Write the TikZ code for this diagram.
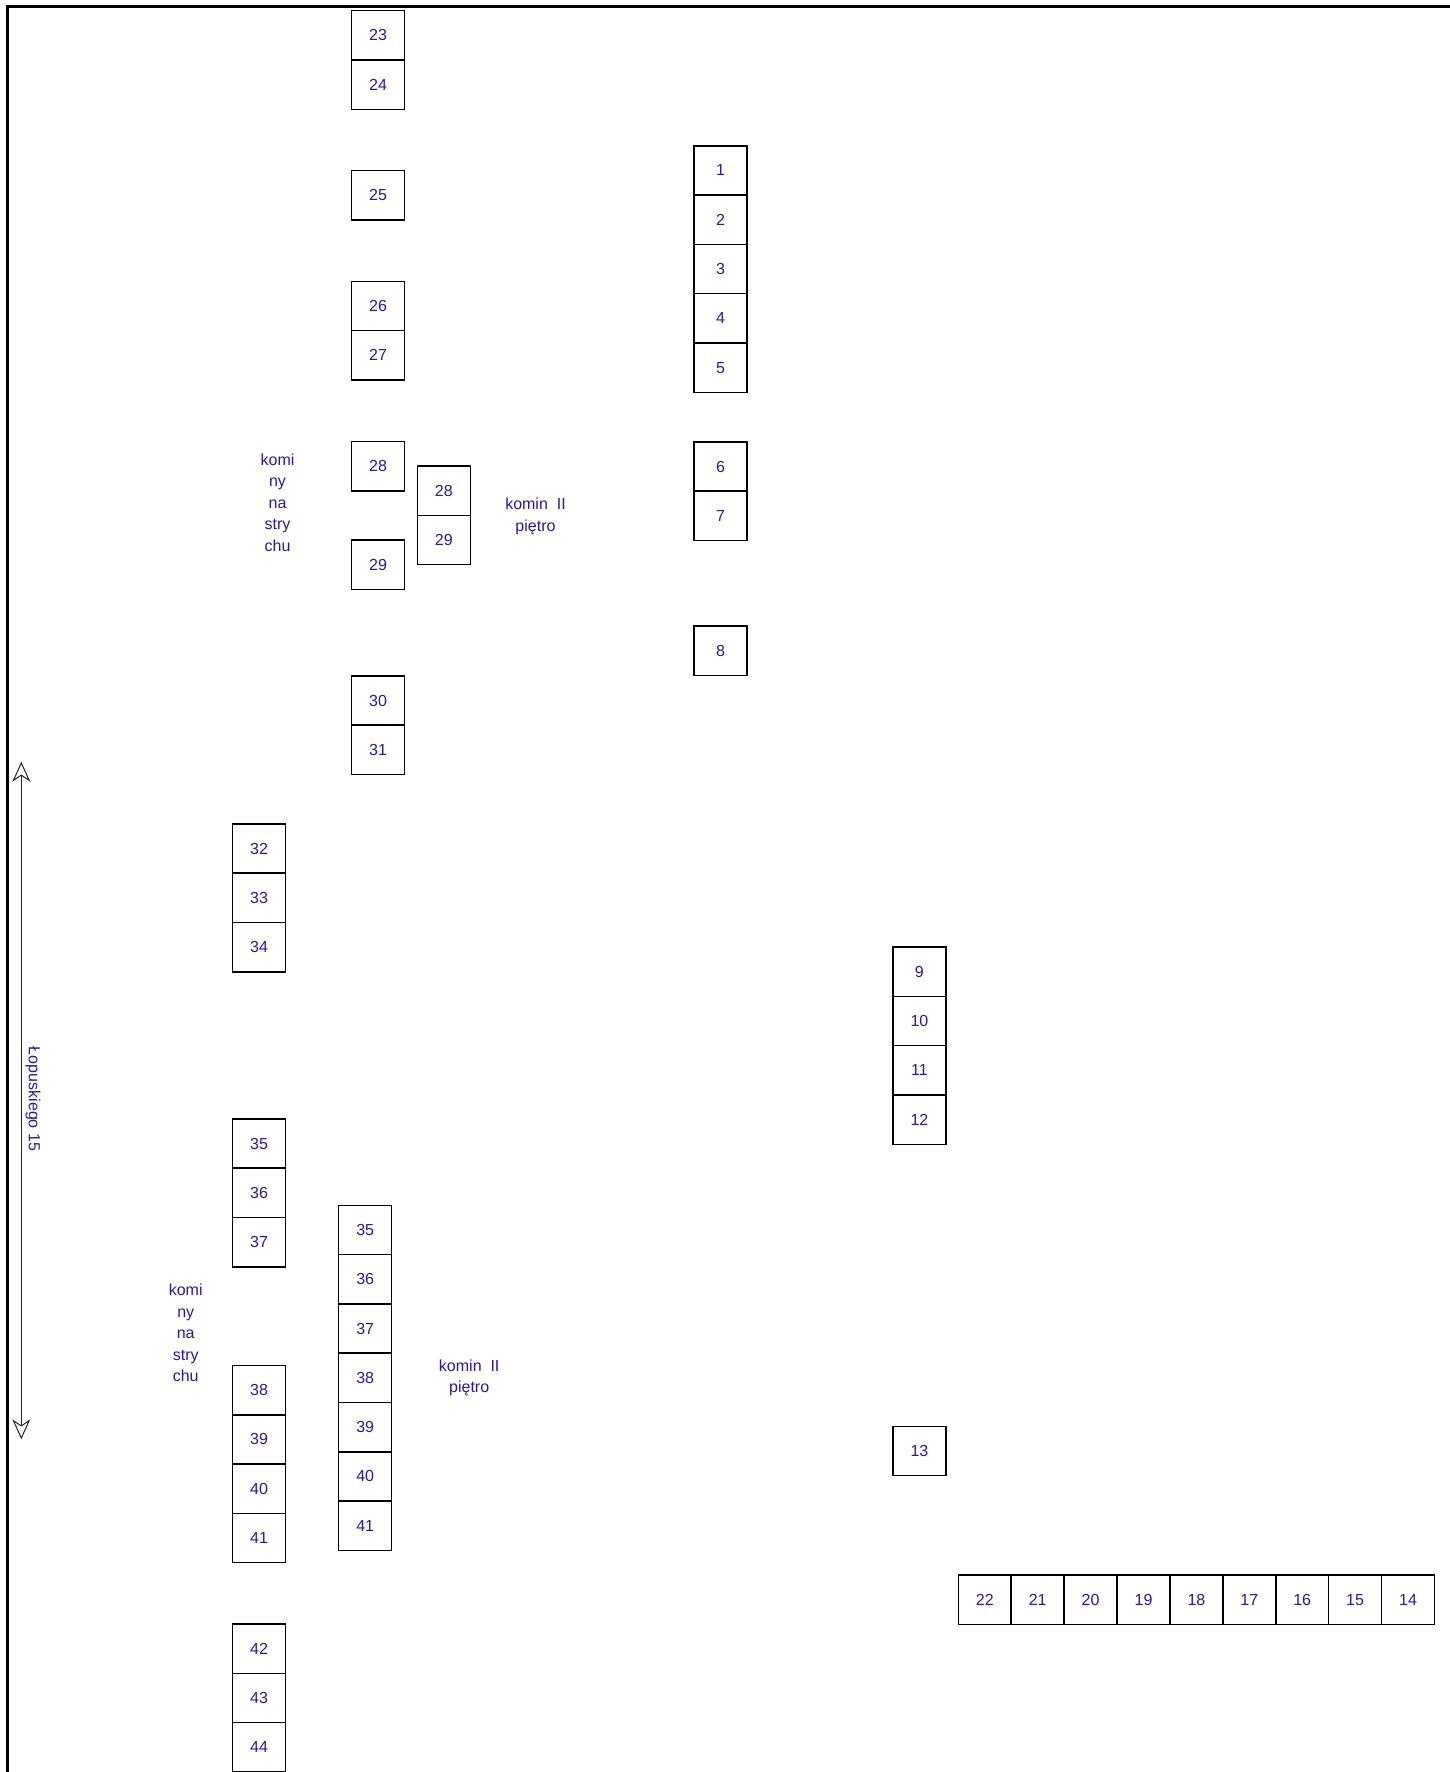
\documentclass[tikz,border=0pt]{standalone}
\usepackage{fontspec}
\setmainfont{Liberation Sans}
\usepackage{tikz}
\usetikzlibrary{arrows.meta,positioning}
\usepackage{xcolor}

\definecolor{labelblue}{RGB}{36,26,165}
\newcommand{\boxfont}{\fontsize{16}{21.5}\selectfont}

\tikzset{
  cell/.style={draw=black, line width=1.5pt, minimum width=53pt,
    minimum height=49.3pt, inner sep=0pt, outer sep=0pt, anchor=north west,
    text=labelblue, font=\boxfont},
  note/.style={text=labelblue, font=\boxfont, align=center, inner sep=0pt},
}

\begin{document}
\begin{tikzpicture}[x=1pt,y=-1pt]
  \useasboundingbox (0,0) rectangle (1450,1772);
  % Frame: left and top edges only
  \draw[line width=2.5pt] (7.3,1772) -- (7.3,6.7) -- (1450,6.7);
  % Column A (23 -- 31)
  \foreach \n [count=\i from 0] in {23,24}
    \node[cell] (a\n) at (351.5, 10.7+49.3*\i) {\n};
  \node[cell] (a25) at (351.5, 170.7) {25};
  \foreach \n [count=\i from 0] in {26,27}
    \node[cell] (a\n) at (351.5, 281.4+49.3*\i) {\n};
  \node[cell] (a28) at (351.5, 441.7) {28};
  \node[cell] (a29) at (351.5, 540) {29};
  \foreach \n [count=\i from 0] in {30,31}
    \node[cell] (a\n) at (351.5, 675.9+49.3*\i) {\n};
  % Chimney pair, upper
  \foreach \n [count=\i from 0] in {28,29}
    \node[cell] (k\n) at (417.3, 466+49.3*\i) {\n};
  % Column B (1 -- 8)
  \foreach \n [count=\i from 0] in {1,...,5}
    \node[cell] (b\n) at (694, 145.8+49.3*\i) {\n};
  \foreach \n [count=\i from 0] in {6,7}
    \node[cell] (b\n) at (694, 441.9+49.3*\i) {\n};
  \node[cell] (b8) at (694, 626.1) {8};
  % Column C (32 -- 44)
  \foreach \n [count=\i from 0] in {32,33,34}
    \node[cell] (c\n) at (232.5, 823.9+49.3*\i) {\n};
  \foreach \n [count=\i from 0] in {35,36,37}
    \node[cell] (c\n) at (232.5, 1118.9+49.3*\i) {\n};
  \foreach \n [count=\i from 0] in {38,...,41}
    \node[cell] (c\n) at (232.5, 1365.5+49.3*\i) {\n};
  \foreach \n [count=\i from 0] in {42,43,44}
    \node[cell] (c\n) at (232.5, 1624+49.3*\i) {\n};
  % Column D, chimney lower (35 -- 41)
  \foreach \n [count=\i from 0] in {35,...,41}
    \node[cell] (d\n) at (338.7, 1205.3+49.3*\i) {\n};
  % Column E (9 -- 13)
  \foreach \n [count=\i from 0] in {9,...,12}
    \node[cell] (e\n) at (892.9, 947.1+49.3*\i) {\n};
  \node[cell] (e13) at (892.9, 1426.3) {13};
  % Bottom row (22 -- 14)
  \foreach \n [count=\i from 0] in {22,21,...,14}
    \node[cell] (r\n) at (958.3+52.9*\i, 1575) {\n};
  % Labels
  \node[note] (attic1) at (277.5, 502.4) {komi\\ny\\na\\stry\\chu};
  \node[note] (floor1) at (535.5, 516.4) {komin\ \ II\\piętro};
  \node[note] (attic2) at (185.7, 1333.2) {komi\\ny\\na\\stry\\chu};
  \node[note] (floor2) at (469.2, 1378) {komin\ \ II\\piętro};
  % Street arrow
  \coordinate (streetN) at (21.3, 761.7);
  \coordinate (streetS) at (21.3, 1439.3);
  \draw[{Stealth[open,length=20pt,width=18pt,inset=6pt]}-{Stealth[open,length=20pt,width=18pt,inset=6pt]},
    line width=1pt, black!85] (streetN) -- (streetS);
  \node[note, rotate=-90] (street) at (33, 1099) {Łopuskiego 15};
\end{tikzpicture}
\end{document}
